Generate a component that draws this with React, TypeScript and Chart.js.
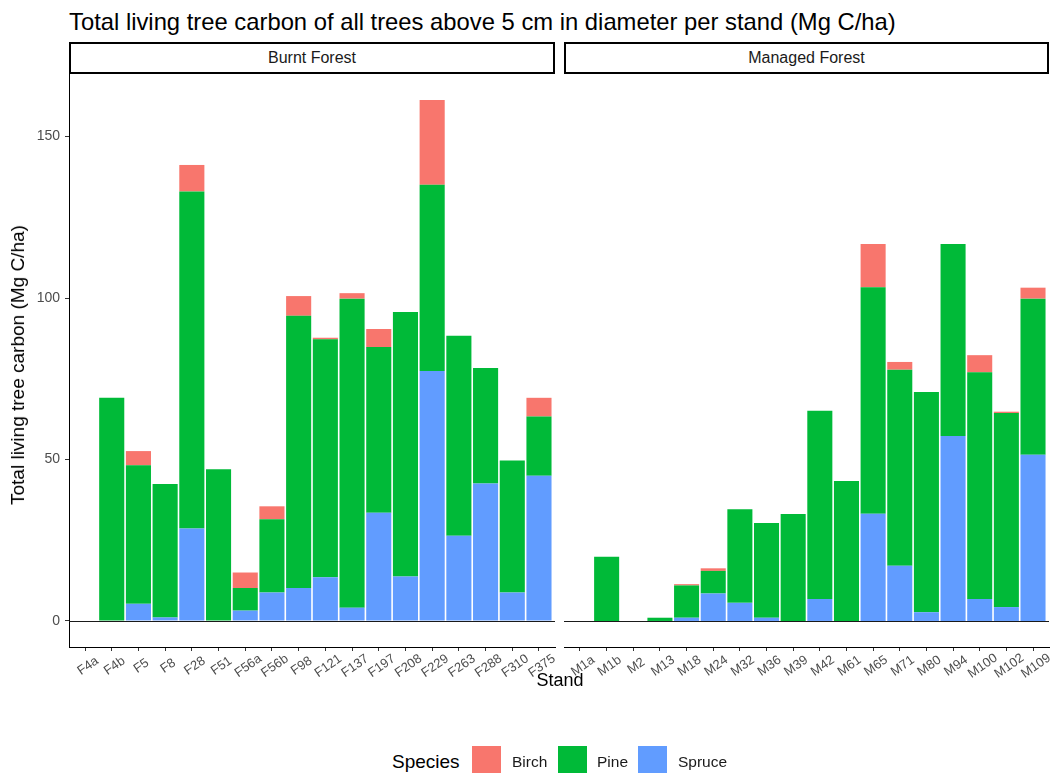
import React, { useEffect, useRef } from "react";
import { Chart, registerables } from "chart.js";

Chart.register(...registerables);

const FONT = '"Liberation Sans", Arial, Helvetica, sans-serif';

const burntStands = ["F4a", "F4b", "F5", "F8", "F28", "F51", "F56a", "F56b", "F98", "F121", "F137", "F197", "F208", "F229", "F263", "F288", "F310", "F375"];
const burntSpruce = [0, 0, 5.3, 1.1, 28.6, 0, 3.2, 8.8, 10.2, 13.5, 4.1, 33.5, 13.8, 77.4, 26.4, 42.6, 8.8, 45.0];
const burntPine = [0, 69.1, 42.9, 41.3, 104.4, 47.0, 7.0, 22.7, 84.3, 73.7, 95.7, 51.3, 81.9, 57.7, 61.9, 35.7, 40.9, 18.3];
const burntBirch = [0, 0, 4.4, 0, 8.2, 0, 4.8, 4.0, 6.1, 0.5, 1.7, 5.6, 0, 26.2, 0, 0, 0, 5.8];

const managedStands = ["M1a", "M1b", "M2", "M13", "M18", "M24", "M32", "M36", "M39", "M42", "M61", "M65", "M71", "M80", "M94", "M100", "M102", "M109"];
const managedSpruce = [0, 0, 0, 0, 1.0, 8.5, 5.6, 1.0, 0, 6.8, 0, 33.2, 17.1, 2.7, 57.3, 6.8, 4.3, 51.5];
const managedPine = [0, 19.9, 0, 1.0, 10.0, 7.0, 29.0, 29.3, 33.1, 58.3, 43.3, 70.1, 60.7, 68.2, 59.4, 70.2, 60.1, 48.3];
const managedBirch = [0, 0, 0, 0, 0.4, 0.8, 0, 0, 0, 0, 0, 13.4, 2.4, 0, 0, 5.3, 0.4, 3.4];

const yTicks = [0, 50, 100, 150];
const speciesNames = ["Birch", "Pine", "Spruce"];
const speciesColors = ["#F8766D", "#00BA38", "#619CFF"];

const facetNames = ["Burnt Forest", "Managed Forest"];
const titleText = "Total living tree carbon of all trees above 5 cm in diameter per stand (Mg C/ha)";
const yTitle = "Total living tree carbon (Mg C/ha)";
const xTitle = "Stand";
const legendTitle = "Species";

const totals = [
  ...burntStands.map((_, i) => burntSpruce[i] + burntPine[i] + burntBirch[i]),
  ...managedStands.map((_, i) => managedSpruce[i] + managedPine[i] + managedBirch[i]),
];
const maxTotal = Math.max(...totals);
const yMax = maxTotal * 1.05;
const yMin = -maxTotal * 0.05;

const zeroLine = {
  id: "zeroLine",
  afterDatasetsDraw(chart: any) {
    const { ctx, chartArea } = chart;
    const py = Math.round(chart.scales.y.getPixelForValue(0)) + 0.5;
    ctx.save();
    ctx.strokeStyle = "#1a1a1a";
    ctx.lineWidth = 1;
    ctx.beginPath();
    ctx.moveTo(chartArea.left, py);
    ctx.lineTo(chartArea.right, py);
    ctx.stroke();
    ctx.restore();
  },
};

const xLabels = {
  id: "xLabels",
  afterDraw(chart: any, _args: any, opts: any) {
    const xs = chart.scales.x;
    const ctx = chart.ctx;
    const labels: string[] = opts.labels || [];
    ctx.save();
    ctx.fillStyle = "#4d4d4d";
    ctx.font = `13px ${FONT}`;
    ctx.textAlign = "center";
    ctx.textBaseline = "middle";
    labels.forEach((lab, i) => {
      const px = xs.getPixelForValue(i) + 3;
      const py = chart.chartArea.bottom + 19;
      ctx.save();
      ctx.translate(px, py);
      ctx.rotate((-35 * Math.PI) / 180);
      ctx.fillText(lab, 0, 0);
      ctx.restore();
    });
    ctx.restore();
  },
};

type PanelProps = {
  stands: string[];
  spruce: number[];
  pine: number[];
  birch: number[];
  showY: boolean;
  left: number;
  width: number;
  padLeft: number;
  padRight: number;
};

const TOP = 74;
const HEIGHT = 626;

function Panel({ stands, spruce, pine, birch, showY, left, width, padLeft, padRight }: PanelProps) {
  const ref = useRef<HTMLCanvasElement>(null);
  useEffect(() => {
    const mk = (vals: number[]) => stands.map((_, i) => ({ x: i, y: vals[i] }));
    const chart = new Chart(ref.current as HTMLCanvasElement, {
      type: "bar",
      data: {
        datasets: [
          { label: speciesNames[2], data: mk(spruce), backgroundColor: speciesColors[2] },
          { label: speciesNames[1], data: mk(pine), backgroundColor: speciesColors[1] },
          { label: speciesNames[0], data: mk(birch), backgroundColor: speciesColors[0] },
        ] as any,
      },
      options: {
        animation: false,
        responsive: false,
        maintainAspectRatio: false,
        layout: { padding: { left: padLeft, right: padRight, top: 0, bottom: 0 } },
        datasets: { bar: { barPercentage: 0.94, categoryPercentage: 1, borderWidth: 0 } } as any,
        plugins: {
          legend: { display: false },
          tooltip: { enabled: false },
          xLabels: { labels: stands },
        } as any,
        scales: {
          x: {
            type: "linear",
            stacked: true,
            min: -0.6,
            max: stands.length - 0.4,
            offset: false,
            afterBuildTicks: (s: any) => {
              s.ticks = stands.map((_, i) => ({ value: i }));
            },
            ticks: { display: false },
            grid: { display: true, drawOnChartArea: false, drawTicks: true, tickLength: 4, color: "#333333", offset: false },
            border: { display: true, color: "#000000", width: 1 },
            afterFit: (s: any) => {
              s.height = 53;
              s.paddingLeft = 0;
              s.paddingRight = 0;
            },
          },
          y: {
            type: "linear",
            stacked: true,
            display: showY,
            min: yMin,
            max: yMax,
            afterBuildTicks: (s: any) => {
              s.ticks = yTicks.map((v) => ({ value: v }));
            },
            ticks: { color: "#4d4d4d", font: { family: FONT, size: 14 }, padding: 5, callback: (v: any) => String(v) },
            grid: { display: true, drawOnChartArea: false, drawTicks: true, tickLength: 4, color: "#333333" },
            border: { display: true, color: "#000000", width: 1 },
            afterFit: (s: any) => {
              s.width = showY ? 69 : 0;
              s.paddingTop = 0;
              s.paddingBottom = 0;
            },
          },
        } as any,
      },
      plugins: [zeroLine, xLabels],
    });
    return () => chart.destroy();
  }, []);
  return (
    <canvas
      ref={ref}
      width={width}
      height={HEIGHT}
      style={{ position: "absolute", left, top: TOP, width, height: HEIGHT }}
    />
  );
}

const strip = (left: number, width: number, text: string) => (
  <div
    style={{
      position: "absolute",
      left,
      top: 42,
      width,
      height: 32,
      boxSizing: "border-box",
      border: "2px solid #000",
      display: "flex",
      alignItems: "center",
      justifyContent: "center",
      fontSize: 16,
      color: "#1a1a1a",
      background: "#fff",
    }}
  >
    {text}
  </div>
);

const legendKeyLeft = [472, 558, 638];
const legendLabelLeft = [512, 597, 678];

export default function App() {
  return (
    <div
      style={{
        position: "absolute",
        left: 0,
        top: 0,
        width: 1056,
        height: 773,
        overflow: "hidden",
        background: "#ffffff",
        fontFamily: FONT,
      }}
    >
      <div style={{ position: "absolute", left: 69, top: 7, fontSize: 23.8, lineHeight: "30px", color: "#000", whiteSpace: "nowrap" }}>
        {titleText}
      </div>
      {strip(69, 486, facetNames[0])}
      {strip(564, 485, facetNames[1])}
      <Panel stands={burntStands} spruce={burntSpruce} pine={burntPine} birch={burntBirch} showY={true} left={0} width={560} padLeft={0} padRight={5} />
      <Panel stands={managedStands} spruce={managedSpruce} pine={managedPine} birch={managedBirch} showY={false} left={560} width={496} padLeft={4} padRight={7} />
      <div
        style={{
          position: "absolute",
          left: 18,
          top: 365,
          transform: "translate(-50%, -50%) rotate(-90deg)",
          whiteSpace: "nowrap",
          fontSize: 19,
          color: "#000",
        }}
      >
        {yTitle}
      </div>
      <div style={{ position: "absolute", left: 560, top: 680, transform: "translate(-50%, -50%)", fontSize: 18, color: "#000", whiteSpace: "nowrap" }}>
        {xTitle}
      </div>
      <div style={{ position: "absolute", left: 392, top: 762, transform: "translateY(-50%)", fontSize: 19, color: "#000", whiteSpace: "nowrap" }}>
        {legendTitle}
      </div>
      {speciesNames.map((n, i) => (
        <React.Fragment key={n}>
          <div style={{ position: "absolute", left: legendKeyLeft[i], top: 746, width: 29, height: 29, background: speciesColors[i] }} />
          <div style={{ position: "absolute", left: legendLabelLeft[i], top: 762, transform: "translateY(-50%)", fontSize: 15.5, color: "#1a1a1a", whiteSpace: "nowrap" }}>
            {n}
          </div>
        </React.Fragment>
      ))}
    </div>
  );
}
